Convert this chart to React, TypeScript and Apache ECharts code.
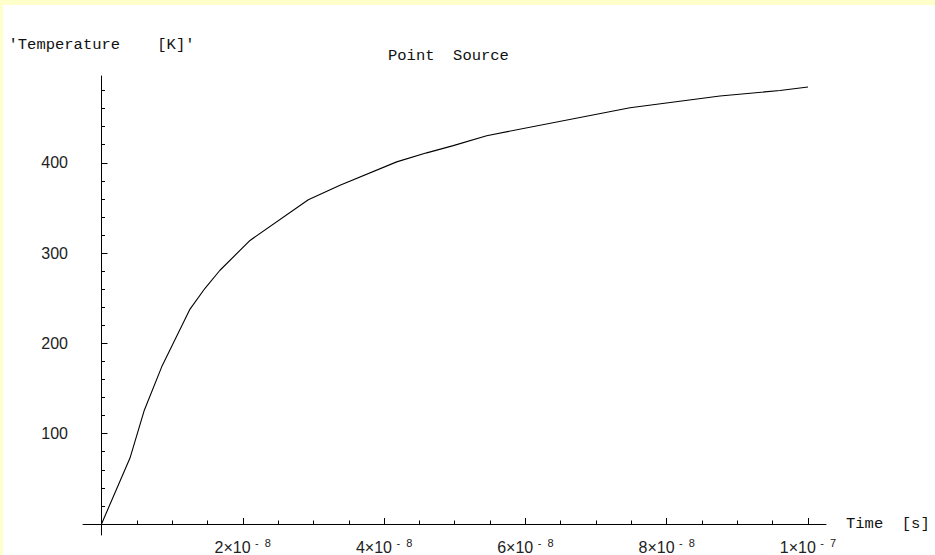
import React, { useEffect, useRef } from "react";
import * as echarts from "echarts";

// ---- data ----
const timeSeconds = [
  0, 0.403e-8, 0.606e-8, 0.852e-8, 1.253e-8, 1.465e-8, 1.677e-8, 2.102e-8,
  2.927e-8, 3.376e-8, 4.178e-8, 4.603e-8, 4.979e-8, 5.452e-8, 7.481e-8,
  8.754e-8, 9.604e-8, 10.0e-8,
];
const temperatureK = [
  0, 73, 126, 174, 238, 261, 281, 314, 359, 375, 401, 411, 419, 430, 461,
  474, 480, 484,
];

const xMajorTicks = [2e-8, 4e-8, 6e-8, 8e-8, 1e-7];
const xTickMantissa = ["2", "4", "6", "8", "1"];
const xTickExponent = ["-  8", "-  8", "-  8", "-  8", "-  7"];
const xMinorTicks = [
  0.5e-8, 1e-8, 1.5e-8, 2.5e-8, 3e-8, 3.5e-8, 4.5e-8, 5e-8, 5.5e-8, 6.5e-8,
  7e-8, 7.5e-8, 8.5e-8, 9e-8, 9.5e-8,
];
const yMajorTicks = [100, 200, 300, 400];
const yMinorTicks = [
  20, 40, 60, 80, 120, 140, 160, 180, 220, 240, 260, 280, 320, 340, 360, 380,
  420, 440, 460, 480,
];

const X_MIN = -0.262e-8;
const X_MAX = 10.255e-8;
const Y_MIN = -12.2;
const Y_MAX = 496.1;

const titleText = "Point  Source";
const xName = "Time  [s]";
const yName = "'Temperature    [K]'";

const monoFont = "'Liberation Mono', 'DejaVu Sans Mono', monospace";
const sansFont = "'Liberation Sans', Arial, sans-serif";

export default function App() {
  const ref = useRef<HTMLDivElement>(null);

  useEffect(() => {
    if (!ref.current) return;
    const chart = echarts.init(ref.current, undefined, { renderer: "svg" });

    const tickLine = { color: "#000", width: 1 };
    const nameStyle = {
      fontFamily: monoFont,
      fontSize: 15.5,
      color: "#111",
    };

    const option: any = {
      animation: false,
      backgroundColor: "#ffffff",
      title: {
        text: titleText,
        left: 388,
        top: 48,
        padding: 0,
        textStyle: {
          fontFamily: monoFont,
          fontSize: 15.5,
          fontWeight: "normal",
          color: "#111",
        },
      },
      graphic: [
        {
          type: "rect",
          silent: true,
          z: -1,
          shape: { x: 0, y: 0, width: 935, height: 5 },
          style: { fill: "#ffffcc" },
        },
        {
          type: "rect",
          silent: true,
          z: -1,
          shape: { x: 0, y: 0, width: 3, height: 555 },
          style: { fill: "#ffffcc" },
        },
      ],
      grid: {
        left: 83,
        right: 109,
        top: 76,
        bottom: 20,
        containLabel: false,
        outerBoundsMode: "none",
      },
      xAxis: [
        {
          type: "value",
          min: X_MIN,
          max: X_MAX,
          position: "bottom",
          name: xName,
          nameLocation: "end",
          nameGap: 20,
          nameTextStyle: nameStyle,
          axisLine: { show: true, onZero: true, lineStyle: tickLine },
          axisTick: {
            show: true,
            inside: true,
            length: 6,
            customValues: xMajorTicks,
            lineStyle: tickLine,
          },
          axisLabel: {
            show: true,
            customValues: xMajorTicks,
            margin: 2,
            hideOverlap: false,
            formatter: (v: number) => {
              const i = xMajorTicks.findIndex(
                (t) => Math.abs(t - v) < 1e-12
              );
              if (i < 0) return "";
              return `{m|${xTickMantissa[i]}×10 }{e|${xTickExponent[i]}}`;
            },
            rich: {
              m: {
                fontFamily: sansFont,
                fontSize: 16,
                lineHeight: 20,
                color: "#222",
              },
              e: {
                fontFamily: sansFont,
                fontSize: 11,
                lineHeight: 8,
                verticalAlign: "top",
                color: "#222",
              },
            },
          },
          splitLine: { show: false },
        },
        {
          type: "value",
          min: X_MIN,
          max: X_MAX,
          position: "bottom",
          offset: -11,
          axisLine: { show: false, onZero: false },
          axisTick: {
            show: true,
            inside: true,
            length: 3.5,
            customValues: xMinorTicks,
            lineStyle: tickLine,
          },
          axisLabel: { show: false },
          splitLine: { show: false },
        },
      ],
      yAxis: [
        {
          type: "value",
          min: Y_MIN,
          max: Y_MAX,
          position: "left",
          name: yName,
          nameLocation: "end",
          nameGap: 23,
          nameTextStyle: nameStyle,
          axisLine: { show: true, onZero: true, lineStyle: tickLine },
          axisTick: {
            show: true,
            inside: true,
            length: 6,
            customValues: yMajorTicks,
            lineStyle: tickLine,
          },
          axisLabel: {
            show: true,
            customValues: yMajorTicks,
            margin: 15,
            fontFamily: sansFont,
            fontSize: 16,
            color: "#222",
          },
          splitLine: { show: false },
        },
        {
          type: "value",
          min: Y_MIN,
          max: Y_MAX,
          position: "left",
          offset: -18.5,
          axisLine: { show: false, onZero: false },
          axisTick: {
            show: true,
            inside: true,
            length: 3.5,
            customValues: yMinorTicks,
            lineStyle: tickLine,
          },
          axisLabel: { show: false },
          splitLine: { show: false },
        },
      ],
      series: [
        {
          type: "line",
          xAxisIndex: 0,
          yAxisIndex: 0,
          data: timeSeconds.map((t, i) => [t, temperatureK[i]]),
          showSymbol: false,
          symbol: "none",
          smooth: false,
          lineStyle: { color: "#000", width: 1.1 },
          silent: true,
        },
      ],
    };

    chart.setOption(option);
    return () => chart.dispose();
  }, []);

  return (
    <div
      ref={ref}
      style={{
        position: "fixed",
        left: 0,
        top: 0,
        width: 935,
        height: 555,
      }}
    />
  );
}
